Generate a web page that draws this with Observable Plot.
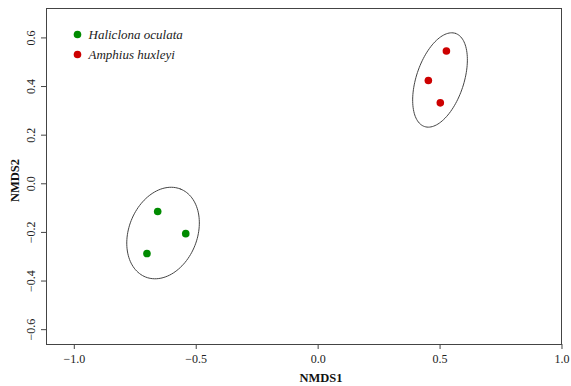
<!DOCTYPE html>
<html>
<head>
<meta charset="utf-8">
<script src="https://cdn.jsdelivr.net/npm/d3@7"></script>
<script src="https://cdn.jsdelivr.net/npm/@observablehq/plot@0.6"></script>
<style>
  html, body { margin: 0; padding: 0; background: #fff; }
  #chart svg { display: block; }
</style>
</head>
<body>
<div id="chart"></div>
<script>
// ---- Data ----
const species = ["Haliclona oculata", "Amphius huxleyi"];
const colors = ["#008B00", "#CD0000"];

const pointSpecies = ["Haliclona oculata", "Haliclona oculata", "Haliclona oculata",
                      "Amphius huxleyi", "Amphius huxleyi", "Amphius huxleyi"];
const nmds1 = [-0.658, -0.543, -0.702, 0.526, 0.452, 0.501];
const nmds2 = [-0.114, -0.205, -0.287, 0.546, 0.425, 0.333];

// ellipse parameters per species (centre, semi-axes, rotation in degrees)
const ellCx = [-0.636, 0.4998];
const ellCy = [-0.2025, 0.427];
const ellA = [0.1946, 0.2018];
const ellB = [0.1404, 0.0975];
const ellAngle = [68.5, 71.7];

const xTicks = [-1.0, -0.5, 0.0, 0.5, 1.0];
const yTicks = [-0.6, -0.4, -0.2, 0.0, 0.2, 0.4, 0.6];

// ---- Build tables ----
const points = nmds1.map((x, i) => ({x, y: nmds2[i], species: pointSpecies[i]}));
const ellipsePts = [];
species.forEach((s, k) => {
  const th = ellAngle[k] * Math.PI / 180;
  for (let i = 0; i <= 120; i++) {
    const t = (i / 120) * 2 * Math.PI;
    const ex = ellA[k] * Math.cos(t), ey = ellB[k] * Math.sin(t);
    ellipsePts.push({
      species: s,
      x: ellCx[k] + ex * Math.cos(th) - ey * Math.sin(th),
      y: ellCy[k] + ex * Math.sin(th) + ey * Math.cos(th)
    });
  }
});
const fmt = d3.format(".1f");
const font = "Liberation Serif, Times New Roman, serif";

const chart = Plot.plot({
  width: 571,
  height: 386,
  marginLeft: 46,
  marginRight: 10,
  marginTop: 8,
  marginBottom: 42,
  style: {fontFamily: font, fontSize: "12px", background: "#fff", color: "#222"},
  x: {domain: [-1.114, 0.998]},
  y: {domain: [-0.661, 0.721]},
  color: {domain: species, range: colors},
  marks: [
    Plot.axisX({ticks: xTicks, tickSize: 5, tickFormat: () => "", label: null, stroke: "#444"}),
    Plot.axisY({ticks: yTicks, tickSize: 5, tickFormat: () => "", label: null, stroke: "#444"}),
    Plot.text(xTicks, {x: d => d, text: d => fmt(d), frameAnchor: "bottom", dy: 15, lineAnchor: "middle", fill: "#222", fontSize: 12}),
    Plot.text(yTicks, {y: d => d, text: d => fmt(d), frameAnchor: "left", dx: -15, rotate: -90, textAnchor: "middle", lineAnchor: "middle", fill: "#222", fontSize: 12}),
    Plot.frame({stroke: "#444", strokeWidth: 1}),
    Plot.line(ellipsePts, {x: "x", y: "y", z: "species", stroke: "#444", strokeWidth: 1}),
    Plot.dot(points, {x: "x", y: "y", fill: "species", r: 3.8}),
    // legend
    Plot.dot([species[0]], {frameAnchor: "top-left", dx: 31, dy: 26, r: 3.8, fill: colors[0]}),
    Plot.dot([species[1]], {frameAnchor: "top-left", dx: 31, dy: 46, r: 3.8, fill: colors[1]}),
    Plot.text([species[0]], {text: d => d, frameAnchor: "top-left", dx: 42, dy: 26, textAnchor: "start", lineAnchor: "middle", fontStyle: "italic", fontSize: 13, fill: "#222"}),
    Plot.text([species[1]], {text: d => d, frameAnchor: "top-left", dx: 42, dy: 46, textAnchor: "start", lineAnchor: "middle", fontStyle: "italic", fontSize: 13, fill: "#222"}),
    // axis titles
    Plot.text(["NMDS1"], {text: d => d, frameAnchor: "bottom", dx: 17, dy: 33, lineAnchor: "middle", fontWeight: "bold", fontSize: 12.5, fill: "#111"}),
    Plot.text(["NMDS2"], {text: d => d, frameAnchor: "left", dx: -32, dy: 4, rotate: -90, textAnchor: "middle", lineAnchor: "middle", fontWeight: "bold", fontSize: 12.5, fill: "#111"})
  ]
});
document.getElementById("chart").appendChild(chart);
</script>
</body>
</html>
